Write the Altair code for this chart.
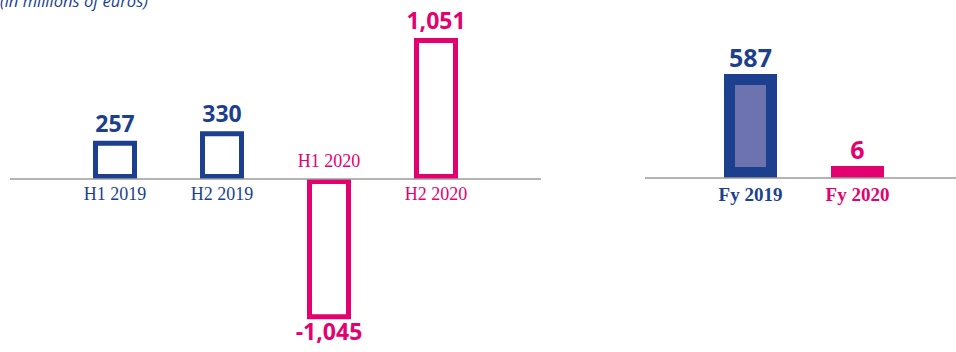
import altair as alt
import pandas as pd

title_text = "(in millions of euros)"

half_labels = ["H1 2019", "H2 2019", "H1 2020", "H2 2020"]
half_values = [257, 330, -1045, 1051]
half_value_text = ["257", "330", "-1,045", "1,051"]
half_years = ["2019", "2019", "2020", "2020"]

fy_labels = ["Fy 2019", "Fy 2020"]
fy_values = [587, 6]
fy_value_text = ["587", "6"]
fy_years = ["2019", "2020"]

BLUE = "#1c3f8e"
PINK = "#e3006f"
INNER = "#6c73ae"
GREY = "#9b9b9b"

left_df = pd.DataFrame({"period": half_labels, "value": half_values,
                        "label": half_value_text, "year": half_years})
right_df = pd.DataFrame({"period": fy_labels, "value": fy_values,
                         "label": fy_value_text, "year": fy_years})
zero_df = pd.DataFrame({"base": [0]})

year_scale = alt.Scale(domain=["2019", "2020"], range=[BLUE, PINK])

# ---------------- left panel (half years) ----------------
xL = alt.Scale(type="point", domain=half_labels, range=[115, 436], padding=0)
yL = alt.Scale(domain=[-1337, 1383], range=[352, 0], nice=False)

baseL = alt.Chart(left_df).encode(
    x=alt.X("period:N", scale=xL, axis=None),
    y=alt.Y("value:Q", scale=yL, axis=None),
)

def left_bars(cond, off):
    return baseL.transform_filter(cond).mark_bar(
        fill="white", size=39, strokeWidth=5, yOffset=off, y2Offset=off
    ).encode(
        y2=alt.Y2("base:Q"),
        stroke=alt.Stroke("year:N", scale=year_scale, legend=None),
    ).transform_calculate(base="0")

barsL_pos = left_bars("datum.value >= 0", -2.5)
barsL_neg = left_bars("datum.value < 0", 2.5)

valL_pos = baseL.transform_filter("datum.value >= 0").mark_text(
    font="Open Sans", fontWeight="bold", fontSize=23, baseline="alphabetic", dy=-14
).encode(text="label:N", color=alt.Color("year:N", scale=year_scale, legend=None))

valL_neg = baseL.transform_filter("datum.value < 0").mark_text(
    font="Open Sans", fontWeight="bold", fontSize=23, baseline="top", dy=8
).encode(text="label:N", color=alt.Color("year:N", scale=year_scale, legend=None))

catL_below = alt.Chart(left_df).transform_filter("datum.value >= 0").transform_calculate(
    base="0"
).mark_text(font="Liberation Serif", fontSize=18, baseline="top", dy=7).encode(
    x=alt.X("period:N", scale=xL, axis=None),
    y=alt.Y("base:Q", scale=yL, axis=None),
    text="period:N",
    color=alt.Color("year:N", scale=year_scale, legend=None),
)

catL_above = alt.Chart(left_df).transform_filter("datum.value < 0").transform_calculate(
    base="0"
).mark_text(font="Liberation Serif", fontSize=18, baseline="alphabetic", dy=-12).encode(
    x=alt.X("period:N", scale=xL, axis=None),
    y=alt.Y("base:Q", scale=yL, axis=None),
    text="period:N",
    color=alt.Color("year:N", scale=year_scale, legend=None),
)

ruleL = alt.Chart(zero_df).mark_rule(color=GREY, strokeWidth=1.5).encode(
    x=alt.value(10), x2=alt.value(541),
    y=alt.Y("base:Q", scale=yL, axis=None),
)

left = alt.layer(barsL_pos, barsL_neg, ruleL, valL_pos, valL_neg, catL_below, catL_above)

# ---------------- right panel (full years) ----------------
xR = alt.Scale(type="point", domain=fy_labels, range=[750.5, 857.5], padding=0)
yR = alt.Scale(domain=[-1098, 1124], range=[352, 0], nice=False)

baseR = alt.Chart(right_df).encode(
    x=alt.X("period:N", scale=xR, axis=None),
    y=alt.Y("value:Q", scale=yR, axis=None),
)

barsR = baseR.transform_calculate(base="0").mark_bar(
    size=42, strokeWidth=11, yOffset=-5.5, y2Offset=-5.5
).encode(
    y2=alt.Y2("base:Q"),
    stroke=alt.Stroke("year:N", scale=year_scale, legend=None),
    fill=alt.Fill("period:N", scale=alt.Scale(domain=fy_labels, range=[INNER, PINK]), legend=None),
)

valR = baseR.mark_text(
    font="Open Sans", fontWeight="bold", fontSize=25, baseline="alphabetic", dy=-18
).encode(text="label:N", color=alt.Color("year:N", scale=year_scale, legend=None))

catR = alt.Chart(right_df).transform_calculate(base="0").mark_text(
    font="Liberation Serif", fontWeight="bold", fontSize=19, baseline="top", dy=8
).encode(
    x=alt.X("period:N", scale=xR, axis=None),
    y=alt.Y("base:Q", scale=yR, axis=None),
    text="period:N",
    color=alt.Color("year:N", scale=year_scale, legend=None),
)

ruleR = alt.Chart(zero_df).mark_rule(color=GREY, strokeWidth=1.5).encode(
    x=alt.value(645), x2=alt.value(956),
    y=alt.Y("base:Q", scale=yR, axis=None),
)

right = alt.layer(barsR, ruleR, valR, catR)

# ---------------- title ----------------
title_layer = alt.Chart(pd.DataFrame({"t": [title_text]})).mark_text(
    font="Open Sans", fontStyle="italic", fontSize=16.5, color=BLUE,
    align="left", baseline="alphabetic"
).encode(text="t:N", x=alt.value(0), y=alt.value(7))

chart = alt.layer(left, right, title_layer).resolve_scale(
    x="independent", y="independent"
).properties(
    width=956, height=352,
    autosize=alt.AutoSizeParams(type="none"),
    padding=0,
    background="white",
).configure_view(strokeWidth=0)

chart.save("out.html", embed_options={"renderer": "svg", "actions": False})
